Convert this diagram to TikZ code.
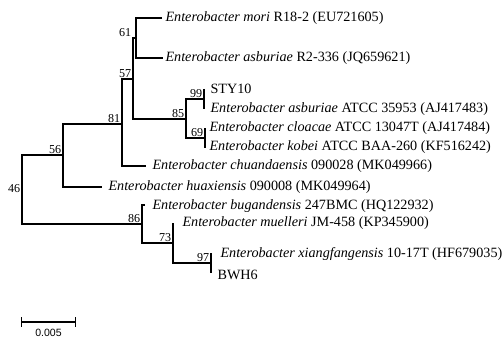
\documentclass[tikz,border=0pt]{standalone}
\usepackage{fontspec}
\setmainfont{Liberation Serif}
\setsansfont{Liberation Sans}
\usepackage{tikz}
\usetikzlibrary{calc}

\begin{document}
\begin{tikzpicture}[x=0.03cm, y=-0.03cm, line width=0.95pt,
  leaf/.style={anchor=west, inner sep=0pt, font=\fontsize{12.1}{13}\selectfont},
  boot/.style={anchor=south east, inner sep=1pt, font=\fontsize{10.3}{11}\selectfont}]
  \useasboundingbox (0,0) rectangle (502,340);
  % internal nodes
  \coordinate (n46) at (22,189);  \coordinate (n56) at (63,155);
  \coordinate (n81) at (122,124); \coordinate (n57) at (133,79);
  \coordinate (n61) at (136,38);  \coordinate (n85) at (186,119);
  \coordinate (n99) at (204,99);  \coordinate (n69) at (205,138);
  \coordinate (n86) at (142,224); \coordinate (n73) at (173,243);
  \coordinate (n97) at (211,263);
  % branch tips
  \coordinate (tmori) at (162,18);  \coordinate (tasbr) at (163,58);
  \coordinate (tsty) at (204,89);   \coordinate (tasba) at (204,109);
  \coordinate (tclo) at (205,128);  \coordinate (tkob) at (205,148);
  \coordinate (tchu) at (146,166);  \coordinate (thua) at (102,187);
  \coordinate (tbug) at (145,205);  \coordinate (tmue) at (173,223);
  \coordinate (txia) at (211,253);  \coordinate (tbwh) at (211,273);
  % taxa
  \node[leaf] (mori) at (165,18) {\textit{Enterobacter mori} R18-2 (EU721605)};
  \node[leaf] (asbr) at (165,58) {\textit{Enterobacter asburiae} R2-336 (JQ659621)};
  \node[leaf] (sty) at (210,89) {STY10};
  \node[leaf] (asba) at (210,109) {\textit{Enterobacter asburiae} ATCC 35953 (AJ417483)};
  \node[leaf] (clo) at (209,128) {\textit{Enterobacter cloacae} ATCC 13047T (AJ417484)};
  \node[leaf] (kob) at (209,147) {\textit{Enterobacter kobei} ATCC BAA-260 (KF516242)};
  \node[leaf] (chu) at (152,166) {\textit{Enterobacter chuandaensis} 090028 (MK049966)};
  \node[leaf] (hua) at (108,187) {\textit{Enterobacter huaxiensis} 090008 (MK049964)};
  \node[leaf] (bug) at (152,206) {\textit{Enterobacter bugandensis} 247BMC (HQ122932)};
  \node[leaf] (mue) at (182,223) {\textit{Enterobacter muelleri} JM-458 (KP345900)};
  \node[leaf] (xia) at (220,254) {\textit{Enterobacter xiangfangensis} 10-17T (HF679035)};
  \node[leaf] (bwh) at (217,275) {BWH6};
  % branches
  \draw (tmori) -| (n61) |- (tasbr);
  \draw (tsty) -| (n99) |- (tasba);
  \draw (tclo) -| (n69) |- (tkob);
  \draw (n99) -| (n85) |- (n69);
  \draw (n61) -| (n57) |- (n85);
  \draw (n57) -| (n81) |- (tchu);
  \draw (n81) -| (n56) |- (thua);
  \draw (txia) -| (n97) |- (tbwh);
  \draw (tmue) -| (n73) |- (n97);
  \draw (tbug) -| (n86) |- (n73);
  \draw (n56) -| (n46) |- (n86);
  % bootstrap values
  \node[boot] (b61) at (n57|-n61) {61};
  \node[boot] (b57) at (n57) {57};
  \node[boot] (b81) at (n81) {81};
  \node[boot] (b56) at (n56) {56};
  \node[boot, anchor=east] (b46) at (n46) {46};
  \node[boot] (b85) at (n85) {85};
  \node[boot] (b99) at (n99) {99};
  \node[boot] (b69) at (n69) {69};
  \node[boot] (b86) at (n86) {86};
  \node[boot] (b73) at (n73) {73};
  \node[boot] (b97) at (n97) {97};
  % scale bar
  \coordinate (s0) at (21,322); \coordinate (s1) at (76,322);
  \draw[|-|] (s0) -- (s1);
  \node[anchor=north, inner sep=1pt, font=\sffamily\fontsize{9}{10}\selectfont] (slab) at ($(s0)!0.5!(s1)+(0,5)$) {0.005};
\end{tikzpicture}
\end{document}
